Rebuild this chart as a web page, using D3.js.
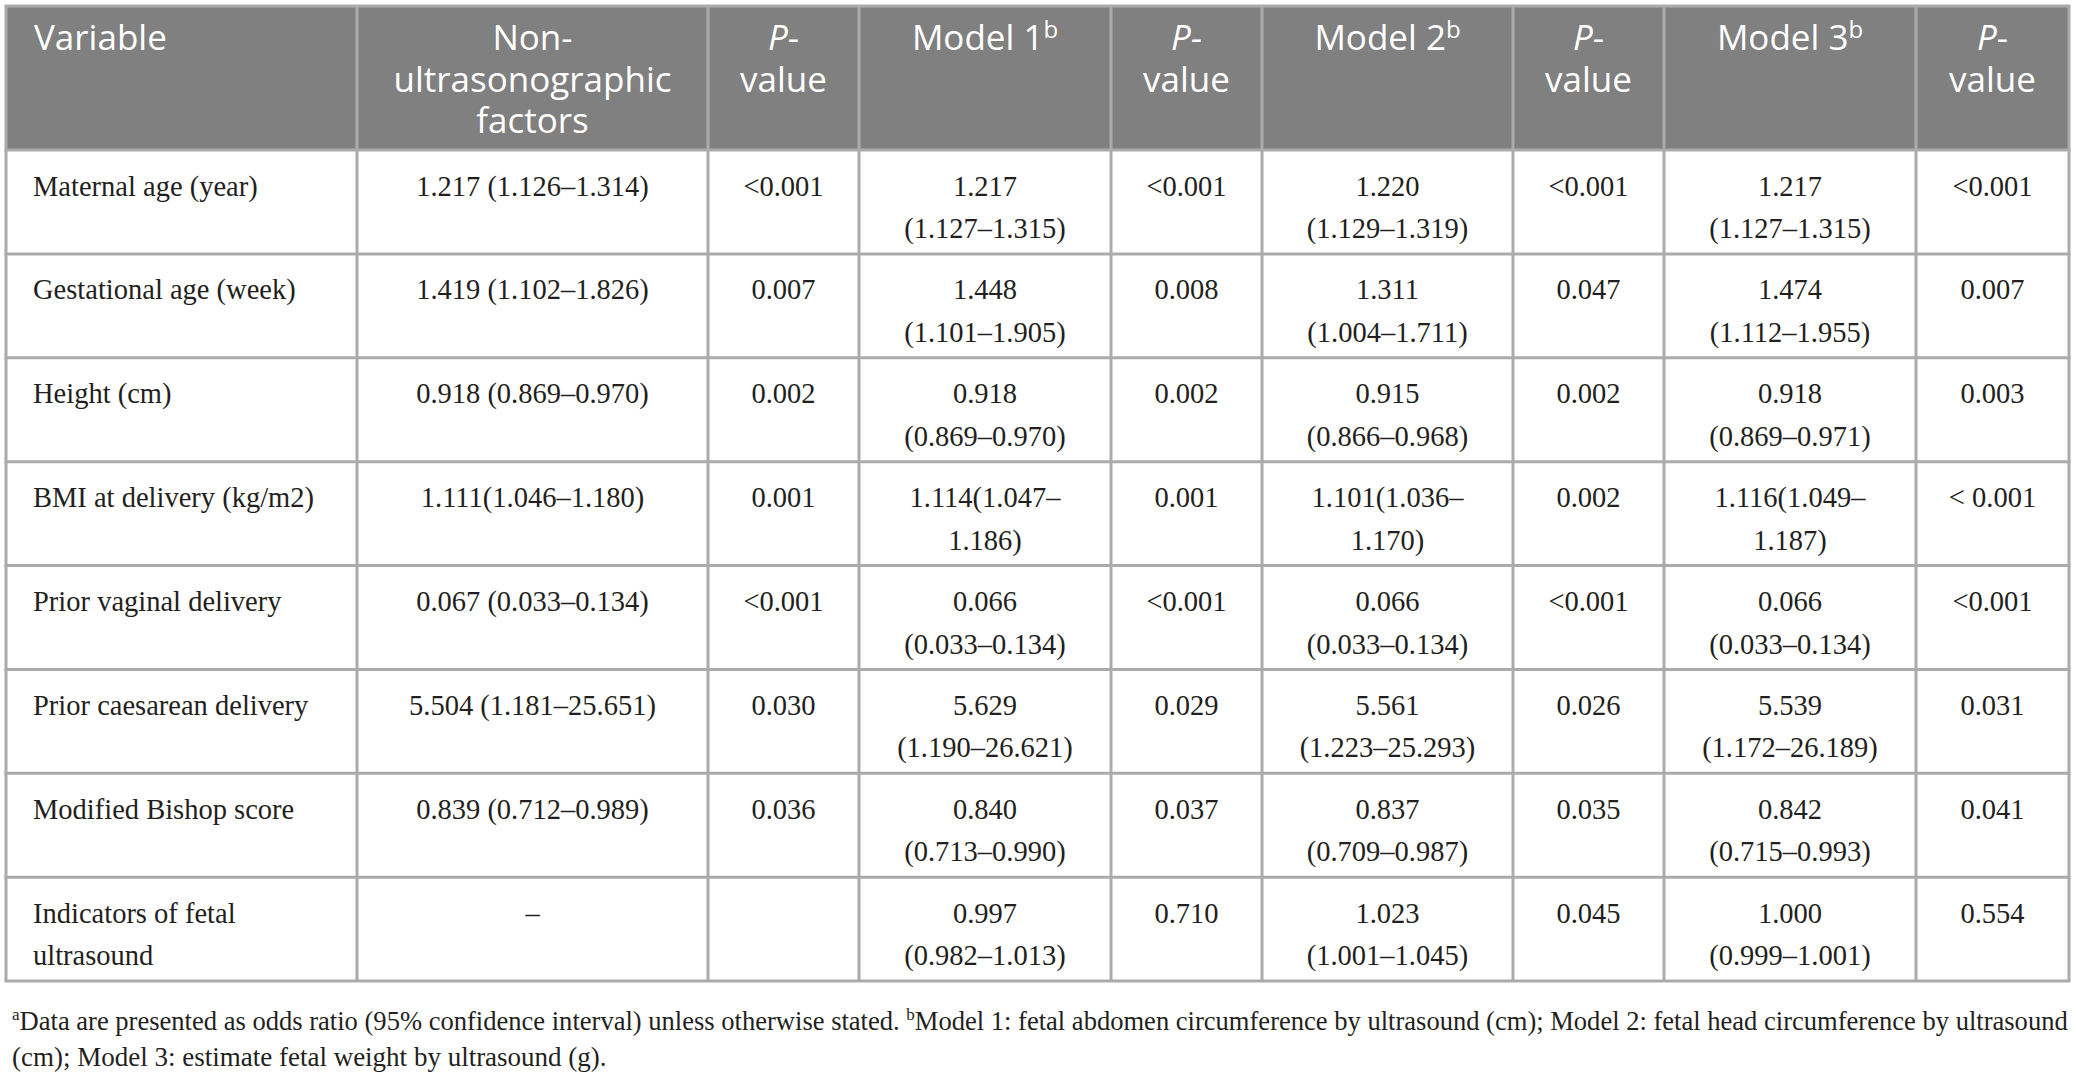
<!DOCTYPE html>
<html>
<head>
<meta charset="utf-8">
<script src="https://cdn.jsdelivr.net/npm/d3@7"></script>
<style>
  body { margin: 0; background: #fff; }
  svg { display: block; }
</style>
</head>
<body>
<div id="table"></div>
<script>
var headers = ["Variable", "Non-|ultrasonographic|factors", "*P*-|value", "Model 1^b", "*P*-|value", "Model 2^b", "*P*-|value", "Model 3^b", "*P*-|value"]

var variables = ["Maternal age (year)", "Gestational age (week)", "Height (cm)", "BMI at delivery (kg/m2)",
  "Prior vaginal delivery", "Prior caesarean delivery", "Modified Bishop score", "Indicators of fetal ultrasound"]

var nonUltrasound = ["1.217 (1.126–1.314)", "1.419 (1.102–1.826)", "0.918 (0.869–0.970)", "1.111(1.046–1.180)",
  "0.067 (0.033–0.134)", "5.504 (1.181–25.651)", "0.839 (0.712–0.989)", "–"]
var nonUltrasoundP = ["<0.001", "0.007", "0.002", "0.001", "<0.001", "0.030", "0.036", ""]

var model1 = ["1.217 (1.127–1.315)", "1.448 (1.101–1.905)", "0.918 (0.869–0.970)", "1.114(1.047–1.186)",
  "0.066 (0.033–0.134)", "5.629 (1.190–26.621)", "0.840 (0.713–0.990)", "0.997 (0.982–1.013)"]
var model1P = ["<0.001", "0.008", "0.002", "0.001", "<0.001", "0.029", "0.037", "0.710"]

var model2 = ["1.220 (1.129–1.319)", "1.311 (1.004–1.711)", "0.915 (0.866–0.968)", "1.101(1.036–1.170)",
  "0.066 (0.033–0.134)", "5.561 (1.223–25.293)", "0.837 (0.709–0.987)", "1.023 (1.001–1.045)"]
var model2P = ["<0.001", "0.047", "0.002", "0.002", "<0.001", "0.026", "0.035", "0.045"]

var model3 = ["1.217 (1.127–1.315)", "1.474 (1.112–1.955)", "0.918 (0.869–0.971)", "1.116(1.049–1.187)",
  "0.066 (0.033–0.134)", "5.539 (1.172–26.189)", "0.842 (0.715–0.993)", "1.000 (0.999–1.001)"]
var model3P = ["<0.001", "0.007", "0.003", "< 0.001", "<0.001", "0.031", "0.041", "0.554"]

var footnotes = [
  "^aData are presented as odds ratio (95% confidence interval) unless otherwise stated. ^bModel 1: fetal abdomen circumference by ultrasound (cm); Model 2: fetal head circumference by ultrasound",
  "(cm); Model 3: estimate fetal weight by ultrasound (g)."
]

var columns = [variables, nonUltrasound, nonUltrasoundP, model1, model1P, model2, model2P, model3, model3P]

// ---- layout ----
var W = 2076, H = 1078
var colWidths = [351, 351, 151, 252, 151, 251, 151, 252, 153]
var tableLeft = 6, tableRight = 2069, tableTop = 6, headBottom = 150, tableBottom = 981
var serif = "'Liberation Serif', 'Times New Roman', serif"
var sans = "'Open Sans', 'Noto Sans', sans-serif"
var gridColor = "#ababab"

var svg = d3.select("#table").append("svg")
  .attr("width", W)
  .attr("height", H)

var x = d3.scaleLinear()
  .domain([0, d3.sum(colWidths)])
  .range([tableLeft, tableRight])

var edges = [0].concat(Array.from(d3.cumsum(colWidths))).map(x)

var y = d3.scaleBand()
  .domain(d3.range(variables.length))
  .range([headBottom, tableBottom])

// header band
svg.append("rect")
  .attr("x", tableLeft)
  .attr("y", tableTop)
  .attr("width", tableRight - tableLeft)
  .attr("height", headBottom - tableTop)
  .attr("fill", "#808080")

// split "*P*-" and "^b" markup into styled pieces
function parseRich(s) {
  return s.split(/(\*[^*]+\*|\^[a-z])/).filter(function (p) { return p !== "" }).map(function (p) {
    if (p[0] === "*") return { text: p.slice(1, -1), italic: true }
    if (p[0] === "^") return { text: p.slice(1), sup: true }
    return { text: p }
  })
}

function addRich(textSel, s, supSize, supRise) {
  var raised = false
  parseRich(s).forEach(function (p) {
    var t = textSel.append("tspan").text(p.text)
    if (p.italic) t.attr("font-style", "italic")
    if (p.sup) {
      t.attr("font-size", supSize).attr("dy", -supRise)
      raised = true
    } else if (raised) {
      t.attr("dy", supRise)
      raised = false
    }
  })
}

// header text, one text element per cell, one tspan per line
var head = svg.append("g").attr("class", "head")
headers.forEach(function (h, i) {
  var left = i === 0
  var cx = left ? edges[i] + 28 : (edges[i] + edges[i + 1]) / 2
  var t = head.append("text")
    .attr("x", cx)
    .attr("y", tableTop + 44)
    .attr("text-anchor", left ? "start" : "middle")
    .attr("font-family", sans)
    .attr("font-size", 35)
    .attr("fill", "#fff")
  h.split("|").forEach(function (line, j) {
    var ln = t.append("tspan")
      .attr("x", cx)
      .attr("dy", j === 0 ? 0 : 41.5)
    addRich(ln, line, 24, 12)
  })
})

// body text with wrapping
var measurer = svg.append("text")
  .attr("font-family", serif)
  .attr("font-size", 28.5)
  .attr("visibility", "hidden")

function textWidth(s) {
  measurer.text(s)
  return measurer.node().getComputedTextLength()
}

function wrap(s, maxW) {
  var words = s.split(" ")
  var lines = []
  var line = ""
  words.forEach(function (w) {
    var test = line ? line + " " + w : w
    if (line && textWidth(test) > maxW) {
      lines.push(line)
      line = w
    } else {
      line = test
    }
  })
  if (line) lines.push(line)
  // a single word still too wide breaks after its en dash
  var out = []
  lines.forEach(function (l) {
    var k = l.indexOf("–")
    if (textWidth(l) > maxW && k > 0 && k < l.length - 1) {
      out.push(l.slice(0, k + 1))
      out.push(l.slice(k + 1))
    } else out.push(l)
  })
  return out
}

var body = svg.append("g").attr("class", "body")
columns.forEach(function (col, i) {
  var left = i === 0
  var pad = left ? 27 : 24
  var maxW = colWidths[i] - 2 * pad
  col.forEach(function (val, r) {
    if (!val) return
    wrap(val, maxW).forEach(function (line, j) {
      body.append("text")
        .attr("x", left ? edges[i] + pad : (edges[i] + edges[i + 1]) / 2)
        .attr("y", y(r) + 45.5 + j * 42.5)
        .attr("text-anchor", left ? "start" : "middle")
        .attr("font-family", serif)
        .attr("font-size", 28.5)
        .attr("fill", "#231f20")
        .text(line)
    })
  })
})
measurer.remove()

// grid lines
var grid = svg.append("g").attr("class", "grid")
  .attr("stroke", gridColor)
  .attr("stroke-width", 3)

grid.selectAll("line.v")
  .data(edges)
  .enter().append("line")
  .attr("class", "v")
  .attr("x1", function (d) { return d })
  .attr("x2", function (d) { return d })
  .attr("y1", tableTop)
  .attr("y2", tableBottom)

var rowEdges = [tableTop, headBottom].concat(y.domain().map(function (r) { return y(r) + y.bandwidth() }))
grid.selectAll("line.h")
  .data(rowEdges)
  .enter().append("line")
  .attr("class", "h")
  .attr("x1", tableLeft - 1.5)
  .attr("x2", tableRight + 1.5)
  .attr("y1", function (d) { return d })
  .attr("y2", function (d) { return d })

// footnote, first line justified to the table width
var noteLeft = 12, noteRight = 2069
footnotes.forEach(function (note, j) {
  var t = svg.append("text")
    .attr("x", noteLeft)
    .attr("y", 1030 + j * 36)
    .attr("font-family", serif)
    .attr("font-size", 27)
    .attr("fill", "#231f20")
  addRich(t, note, 17, 10)
  if (j === 0) {
    var w = t.node().getComputedTextLength()
    var target = noteRight - noteLeft
    if (w > target) {
      t.attr("font-size", 27 * target / w)
    } else {
      var spaces = note.split(" ").length - 1
      t.style("word-spacing", ((target - w) / spaces) + "px")
    }
  }
})
</script>
</body>
</html>
